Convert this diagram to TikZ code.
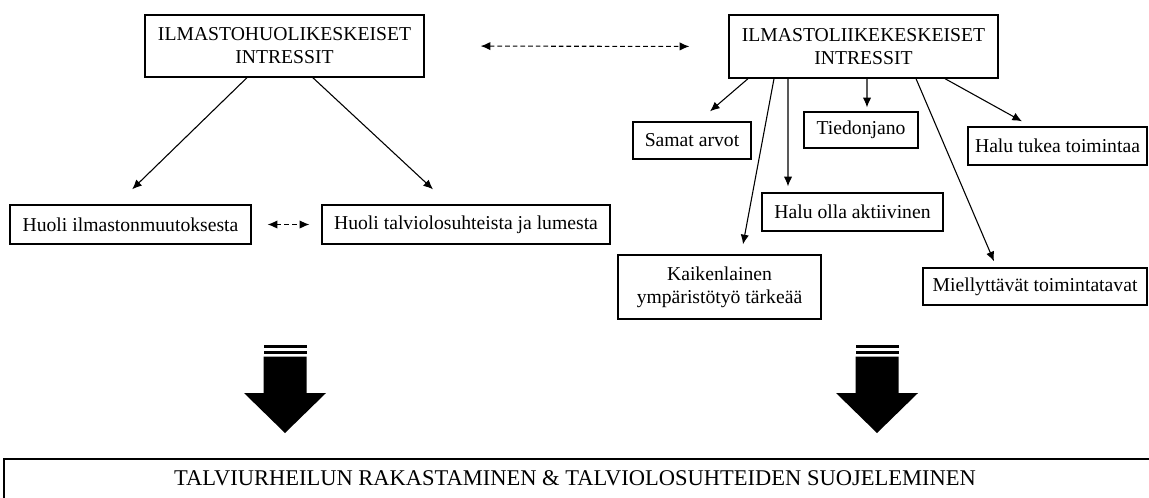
\documentclass[tikz,border=0pt]{standalone}
\usepackage{fontspec}
\setmainfont{Liberation Serif}
\usetikzlibrary{arrows.meta,positioning}

\begin{document}
\begin{tikzpicture}[x=0.6pt,y=-0.6pt,>={Latex[length=5.8pt,width=5pt]},line width=0.65pt]

   \tikzstyle{box}=[draw,line width=0.8pt,inner sep=0pt,align=center,font=\fontsize{11.8}{13.8}\selectfont]
   \tikzstyle{link}=[->]
   \tikzstyle{dlink}=[<->,dash pattern=on 2.8pt off 1.8pt]

   \useasboundingbox (0,0) rectangle (1149,497);

   % the two main groups
   \node[box,minimum width=167.4pt,minimum height=37.2pt] (huoli) at (284.5,46) {ILMASTOHUOLIKESKEISET\\INTRESSIT};
   \node[box,minimum width=161.4pt,minimum height=37.8pt] (liike) at (863.5,46.5) {ILMASTOLIIKEKESKEISET\\INTRESSIT};

   \draw[dlink,shorten <=33.6pt,shorten >=23.4pt] (huoli.east) -- (liike.west);

   % left side
   \node[box,minimum width=144.6pt,minimum height=23.4pt] (ilmasto) at (130.5,224.5) {Huoli ilmastonmuutoksesta};
   \node[box,minimum width=172.8pt,minimum height=23.4pt] (talvi) at (466,224.5) {Huoli talviolosuhteista ja lumesta};

   \draw[link] ([xshift=-22.5pt]huoli.south) -- ([xshift=1pt,yshift=9pt]ilmasto.north);
   \draw[link] ([xshift=17pt]huoli.south) -- ([xshift=-19.8pt,yshift=9pt]talvi.north);
   \draw[dlink,shorten <=9.6pt,shorten >=7.2pt] (ilmasto.east) -- (talvi.west);

   % right side
   \node[box,minimum width=70.8pt,minimum height=22.2pt] (arvot) at (692,140.5) {Samat arvot};
   \node[box,minimum width=68.4pt,minimum height=21.6pt] (tieto) at (861,130) {Tiedonjano};
   \node[box,minimum width=107.4pt,minimum height=22.8pt] (tukea) at (1057.5,146) {Halu tukea toimintaa};
   \node[box,minimum width=108.6pt,minimum height=22.8pt] (aktiivi) at (852.5,212) {Halu olla aktiivinen};
   \node[box,minimum width=121.8pt,minimum height=38.4pt] (kaikki) at (719.5,287) {Kaikenlainen\\ympäristötyö tärkeää};
   \node[box,minimum width=134.4pt,minimum height=22.2pt] (tavat) at (1035,286.5) {Miellyttävät toimintatavat};

   \draw[link] ([xshift=-69.3pt]liike.south) -- ([xshift=10.8pt,yshift=6pt]arvot.north);
   \draw[link] ([xshift=-53.7pt]liike.south) -- ([xshift=14.1pt,yshift=6pt]kaikki.north);
   \draw[link] ([xshift=-45.3pt]liike.south) -- ([xshift=-38.7pt,yshift=3.6pt]aktiivi.north);
   \draw[link] ([xshift=2.1pt]liike.south) -- ([xshift=3.6pt,yshift=2.4pt]tieto.north);
   \draw[link] ([xshift=31.5pt]liike.south) -- ([xshift=-24.6pt,yshift=3.6pt]tavat.north);
   \draw[link] ([xshift=48.9pt]liike.south) -- ([xshift=-21.3pt,yshift=3pt]tukea.north);

   % big arrows down
   \foreach \cx in {285,877} {
     \fill (\cx-21.5,345) rectangle (\cx+21.5,348.3);
     \fill (\cx-21.5,350.7) rectangle (\cx+21.5,354);
     \fill (\cx-21.5,356.7) -- (\cx-21.5,393) -- (\cx-41,393) -- (\cx,433)
           -- (\cx+41,393) -- (\cx+21.5,393) -- (\cx+21.5,356.7) -- cycle;
   }

   % result
   \draw[line width=0.8pt] (4,530) -- (4,459) -- (1160,459);
   \node[font=\fontsize{13.5}{15}\selectfont] (tulos) at (575,478) {TALVIURHEILUN RAKASTAMINEN \& TALVIOLOSUHTEIDEN SUOJELEMINEN};

\end{tikzpicture}
\end{document}
